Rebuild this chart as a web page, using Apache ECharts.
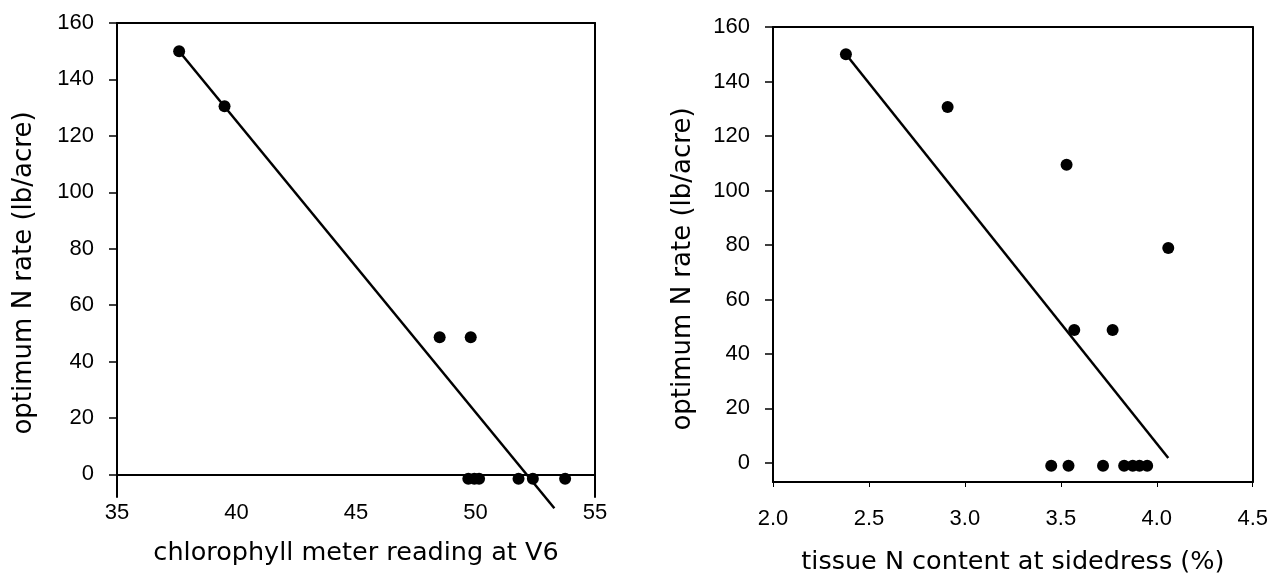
<!DOCTYPE html>
<html>
<head>
<meta charset="utf-8">
<title>optimum N rate</title>
<script src="https://cdn.jsdelivr.net/npm/echarts@6/dist/echarts.min.js"></script>
<style>
    body {margin: 0; background: #fff;}
    #main {width: 1271px; height: 580px;}
</style>
</head>
<body>
<div id="main"></div>
<script>
// 左图: chlorophyll meter reading at V6
var aSpadX = [37.6, 39.5, 48.5, 49.8, 49.7, 49.95, 50.15, 51.8, 52.4, 53.75];
var aSpadY = [150, 130.5, 48.6, 48.6, -1.5, -1.5, -1.5, -1.5, -1.5, -1.5];
var aSpadFitX = [37.6, 53.3];
var aSpadFitY = [150, -12];
var aSpadTicks = [35, 40, 45, 50, 55];

// 右图: tissue N content at sidedress
var aTissueX = [2.38, 2.91, 3.53, 4.06, 3.57, 3.77, 3.45, 3.54, 3.72, 3.83, 3.875, 3.91, 3.95];
var aTissueY = [150, 130.6, 109.4, 78.9, 48.8, 48.8, -1, -1, -1, -1, -1, -1, -1];
var aTissueFitX = [2.38, 4.06];
var aTissueFitY = [150, 1.8];
var aTissueTicks = [2.0, 2.5, 3.0, 3.5, 4.0, 4.5];

// 两图共用的纵轴刻度
var aRateTicks = [0, 20, 40, 60, 80, 100, 120, 140, 160];

var sFont = 'DejaVu Sans';          // 轴标题
var sTickFont = 'Liberation Sans';  // 刻度数字
var sBlack = '#000';

function Zip(aX, aY) {
    var aOut = [];
    for (var i = 0; i < aX.length; i++) {
        aOut.push([aX[i], aY[i]]);
    }
    return aOut
}

// 边框用的轴(上/右)，只画线
function BorderAxis(iGrid, sPos, fMin, fMax) {
    return {
        gridIndex: iGrid, type: 'value', position: sPos, min: fMin, max: fMax,
        axisLine: {show: true, onZero: false, lineStyle: {color: sBlack, width: 2}},
        axisTick: {show: false}, axisLabel: {show: false}, splitLine: {show: false}
    }
}

function RateAxis(iGrid, fMin, iGap, iShift) {
    var iStep = aRateTicks[1] - aRateTicks[0];
    return {
        gridIndex: iGrid, type: 'value', min: fMin, max: aRateTicks[aRateTicks.length - 1],
        splitNumber: aRateTicks.length - 1, minInterval: iStep, maxInterval: iStep,
        axisLine: {show: true, onZero: false, lineStyle: {color: sBlack, width: 2}},
        axisTick: {show: true, length: 8, lineStyle: {color: sBlack, width: 1.5}},
        axisLabel: {margin: 23, fontSize: 22, color: sBlack, fontFamily: sTickFont, showMinLabel: false},
        splitLine: {show: false},
        name: 'optimum N rate (lb/acre)', nameLocation: 'middle', nameGap: iGap,
        nameTextStyle: {fontSize: 26, color: sBlack, fontFamily: sFont, padding: [0, iShift, 0, 0]}
    }
}

function GetOption() {
    var iSpadStep = aSpadTicks[1] - aSpadTicks[0];
    var fTissueStep = aTissueTicks[1] - aTissueTicks[0];
    var jDot = {color: sBlack, opacity: 1};
    var jFit = {color: sBlack, width: 2.5};
    var jOption = {
        animation: false,
        backgroundColor: '#fff',
        grid: [
            {left: 117, right: 676, top: 23, bottom: 83},
            {left: 773, right: 18, top: 27, bottom: 98}
        ],
        xAxis: [
            {
                gridIndex: 0, type: 'value', min: aSpadTicks[0], max: aSpadTicks[aSpadTicks.length - 1],
                interval: iSpadStep,
                axisLine: {show: false, onZero: false}, axisTick: {show: false}, splitLine: {show: false},
                axisLabel: {margin: 5, fontSize: 22, color: sBlack, fontFamily: sTickFont},
                name: 'chlorophyll meter reading at V6', nameLocation: 'middle', nameGap: 43,
                nameTextStyle: {fontSize: 25.5, color: sBlack, fontFamily: sFont}
            },
            BorderAxis(0, 'top', aSpadTicks[0], aSpadTicks[aSpadTicks.length - 1]),
            {
                gridIndex: 1, type: 'value', min: aTissueTicks[0], max: aTissueTicks[aTissueTicks.length - 1],
                interval: fTissueStep,
                axisLine: {show: true, onZero: false, lineStyle: {color: sBlack, width: 2}},
                axisTick: {show: true, length: 5, lineStyle: {color: sBlack, width: 1}},
                splitLine: {show: false},
                axisLabel: {
                    margin: 26, fontSize: 22, color: sBlack, fontFamily: sTickFont,
                    formatter: function (v) { return v.toFixed(1) }
                },
                name: 'tissue N content at sidedress (%)', nameLocation: 'middle', nameGap: 67,
                nameTextStyle: {fontSize: 25.5, color: sBlack, fontFamily: sFont}
            },
            BorderAxis(1, 'top', aTissueTicks[0], aTissueTicks[aTissueTicks.length - 1])
        ],
        yAxis: [
            RateAxis(0, -8, 80, 26),
            BorderAxis(0, 'right', -8, 160),
            RateAxis(1, -7, 77, 29),
            BorderAxis(1, 'right', -7, 160)
        ],
        series: [
            {
                type: 'scatter', xAxisIndex: 0, yAxisIndex: 0, symbolSize: 12,
                itemStyle: jDot, data: Zip(aSpadX, aSpadY),
                // 左图的横线画在 0 处
                markLine: {
                    silent: true, symbol: ['none', 'none'], label: {show: false},
                    lineStyle: {color: sBlack, width: 2, type: 'solid'},
                    data: [{yAxis: 0}]
                }
            },
            {
                type: 'line', xAxisIndex: 0, yAxisIndex: 0, showSymbol: false, clip: false,
                lineStyle: jFit, data: Zip(aSpadFitX, aSpadFitY)
            },
            {
                type: 'scatter', xAxisIndex: 2, yAxisIndex: 2, symbolSize: 12,
                itemStyle: jDot, data: Zip(aTissueX, aTissueY)
            },
            {
                type: 'line', xAxisIndex: 2, yAxisIndex: 2, showSymbol: false, clip: false,
                lineStyle: jFit, data: Zip(aTissueFitX, aTissueFitY)
            }
        ]
    };
    return jOption
}

var myChart = echarts.init(document.getElementById('main'));
myChart.setOption(GetOption());
</script>
</body>
</html>
